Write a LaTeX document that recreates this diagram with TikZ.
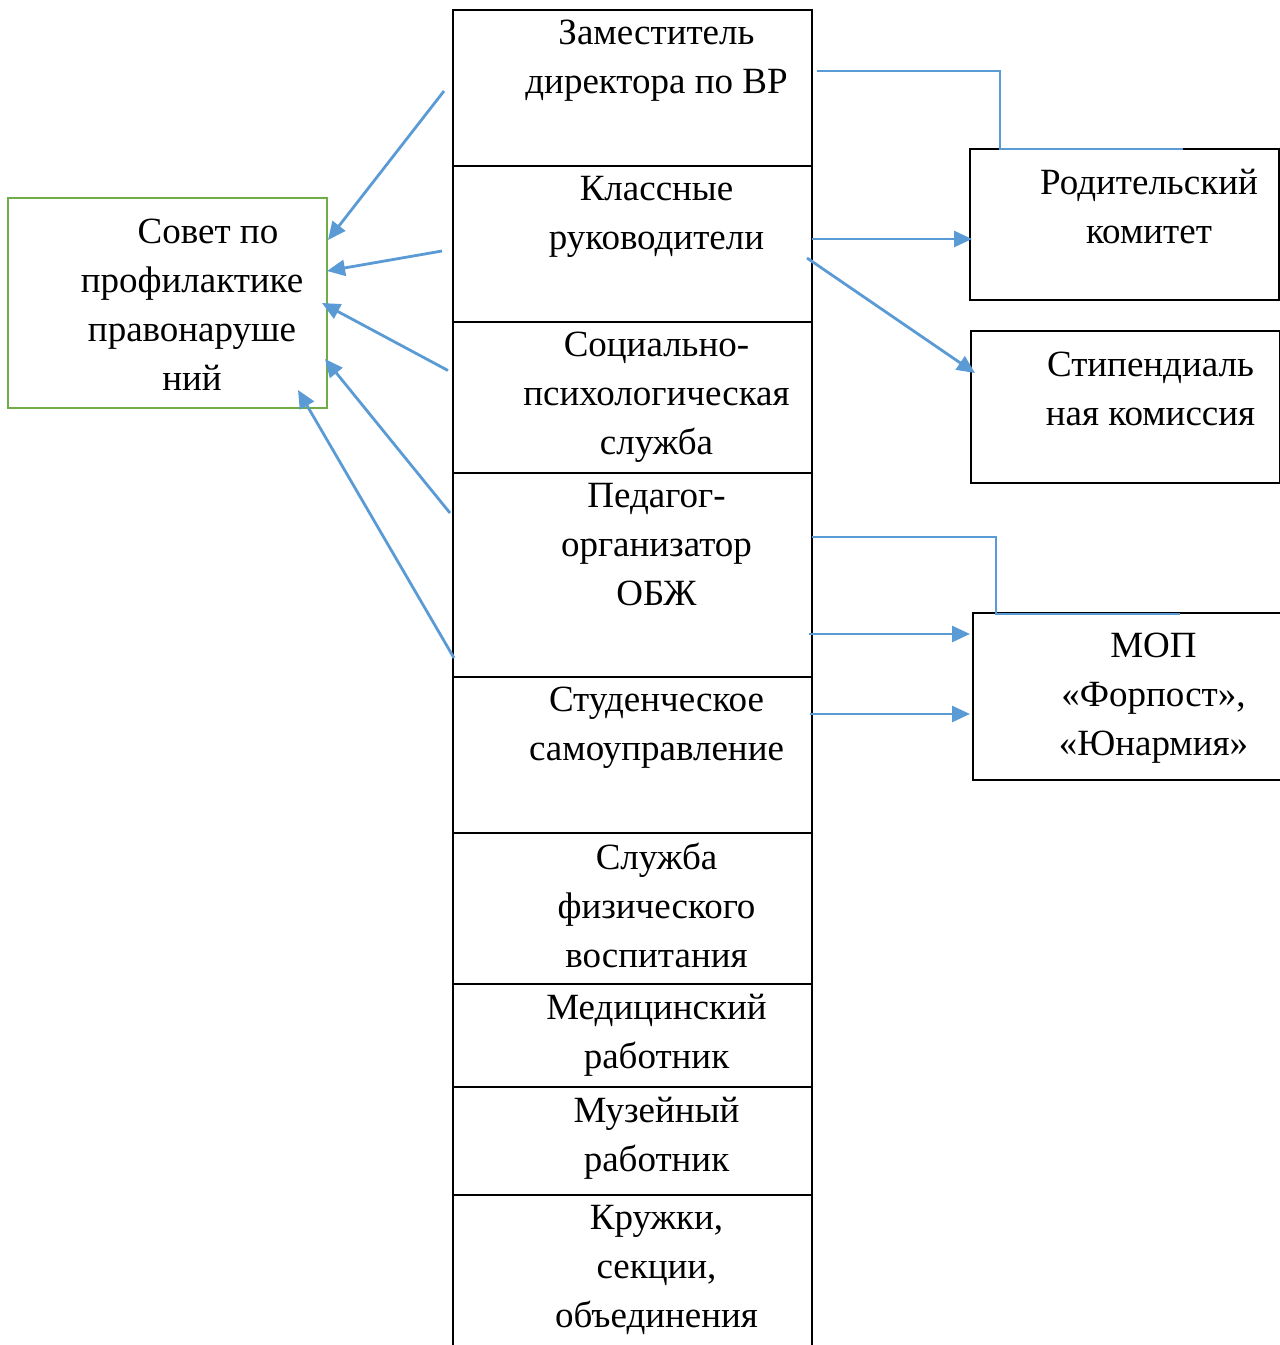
\documentclass[tikz,border=0pt]{standalone}
\usepackage{fontspec}
\setmainfont{Liberation Serif}
\usepackage{tikz}
\usetikzlibrary{arrows.meta, positioning, calc}
\usepackage{xcolor}
\definecolor{linkblue}{RGB}{91,155,213}
\definecolor{boxgreen}{RGB}{112,173,71}

\begin{document}
\begin{tikzpicture}[
    x=0.5pt, y=-0.5pt,
    cell/.style={rectangle, draw, line width=1pt, minimum width=179.5pt, inner sep=0pt, outer sep=0pt},
    side/.style={rectangle, draw, line width=1pt, minimum width=154.5pt, inner sep=0pt, outer sep=0pt, anchor=north west},
    council/.style={rectangle, draw=boxgreen, line width=1.1pt, minimum width=159.5pt, minimum height=105pt, inner sep=0pt, outer sep=0pt, anchor=north west},
    txt/.style={anchor=north, inner sep=0pt, align=center, font=\fontsize{18.5}{24.5}\selectfont},
    arr/.style={-{Triangle[length=9pt, width=8pt]}, line width=1.4pt, color=linkblue},
    thin/.style={line width=0.6pt, color=linkblue},
    node distance=0pt
]
\useasboundingbox (0,0) rectangle (1280,1345);
\clip (0,0) rectangle (1280,1345);

% central column
\node[cell, minimum height=78pt, anchor=north west] (zam) at (453,10) {};
\node[cell, minimum height=78pt, below=of zam] (klass) {};
\node[cell, minimum height=75.5pt, below=of klass] (soc) {};
\node[cell, minimum height=102pt, below=of soc] (ped) {};
\node[cell, minimum height=78pt, below=of ped] (stud) {};
\node[cell, minimum height=75.5pt, below=of stud] (fiz) {};
\node[cell, minimum height=51.5pt, below=of fiz] (med) {};
\node[cell, minimum height=54pt, below=of med] (muz) {};
\node[cell, minimum height=90pt, below=of muz] (kruzh) {};

\node[txt] (zamt) at ([shift={(24,10)}]zam.north) {Заместитель\\директора по ВР};
\node[txt] (klasst) at ([shift={(24,10)}]klass.north) {Классные\\руководители};
\node[txt] (soct) at ([shift={(24,10)}]soc.north) {Социально-\\психологическая\\служба};
\node[txt] (pedt) at ([shift={(24,10)}]ped.north) {Педагог-\\организатор\\ОБЖ};
\node[txt] (studt) at ([shift={(24,10)}]stud.north) {Студенческое\\самоуправление};
\node[txt] (fizt) at ([shift={(24,10)}]fiz.north) {Служба\\физического\\воспитания};
\node[txt] (medt) at ([shift={(24,10)}]med.north) {Медицинский\\работник};
\node[txt] (muzt) at ([shift={(24,10)}]muz.north) {Музейный\\работник};
\node[txt] (kruzht) at ([shift={(24,10)}]kruzh.north) {Кружки,\\секции,\\объединения};

% left and right boxes
\node[council] (sovet) at (8,198) {};
\node[txt] (sovett) at ([shift={(24.5,20.5)}]sovet.north) {\hspace*{16pt}Совет по\\профилактике\\правонаруше\\ний};

\node[side, minimum height=75.5pt] (rod) at (970,149) {};
\node[side, minimum height=76pt] (stip) at (971,331) {};
\node[side, minimum height=83.5pt] (mop) at (973,613) {};
\node[txt] (rodt) at ([shift={(24.5,19.5)}]rod.north) {Родительский\\комитет};
\node[txt] (stipt) at ([shift={(25,20.5)}]stip.north) {Стипендиаль\\ная комиссия};
\node[txt] (mopt) at ([shift={(26,19.5)}]mop.north) {МОП\\«Форпост»,\\«Юнармия»};

% arrows to the council
\draw[arr] ($(zam.west)+(-9,3)$) -- ($(sovet.north east)+(1,42)$);
\draw[arr] ($(klass.west)+(-11,7)$) -- ($(sovet.north east)+(0,73)$);
\draw[arr] ($(soc.west)+(-5,-27)$) -- ($(sovet.east)+(-5,0)$);
\draw[arr] ($(ped.west)+(-3,-62)$) -- ($(sovet.east)+(-2,56)$);
\draw[arr] ($(ped.south west)+(1,-19)$) -- ($(sovet.south east)+(-29,-18)$);

% links to the right
\draw[thin] ($(zam.east)+(5,-17)$) -| ($(rod.north west)+(30,0)$) -- ($(rod.north west)+(213,0)$);
\draw[arr] ($(klass.east)+(0,-5)$) -- ($(rod.west)+(2,14.5)$);
\draw[arr] ($(klass.east)+(-5,14)$) -- ($(stip.north west)+(4,42)$);
\draw[thin] ($(ped.east)+(0,-38)$) -| ($(mop.north west)+(23,1)$) -- ($(mop.north west)+(207,1)$);
\draw[arr] ($(ped.east)+(-3,59)$) -- ($(mop.west)+(-3,-62.5)$);
\draw[arr] ($(stud.east)+(-2,-41)$) -- ($(mop.west)+(-3,17.5)$);
\end{tikzpicture}
\end{document}
